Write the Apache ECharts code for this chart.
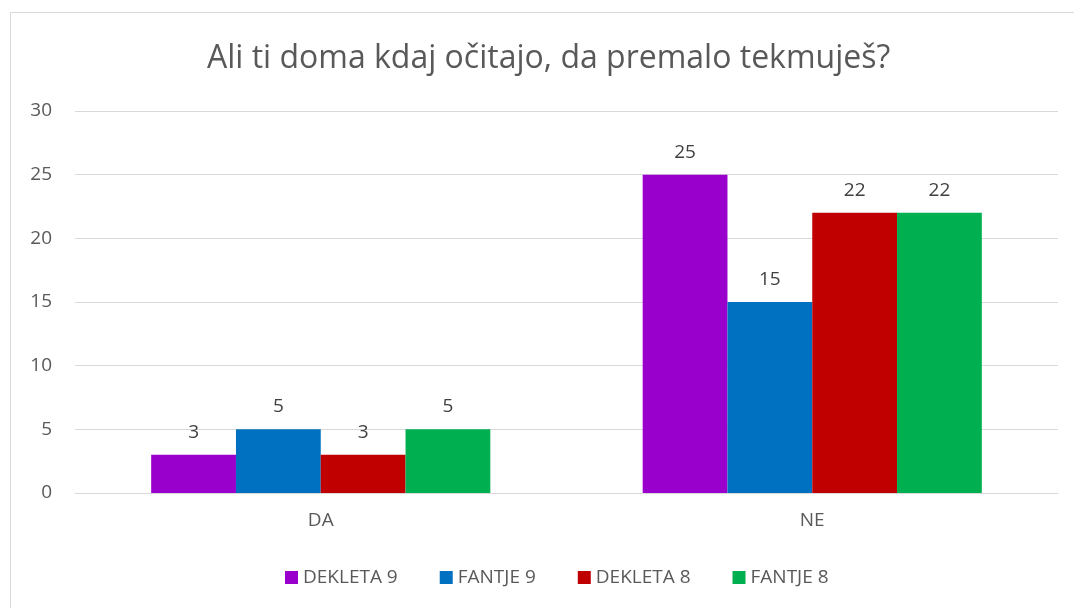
<!DOCTYPE html>
<html>
<head>
<meta charset="utf-8">
<script src="https://cdn.jsdelivr.net/npm/echarts@6/dist/echarts.min.js"></script>
<style>
html,body{margin:0;padding:0;background:#fff;}
#c{width:1074px;height:608px;}
</style>
</head>
<body>
<div id="c"></div>
<script>
const categories = ['DA', 'NE'];
const seriesNames = ['DEKLETA 9', 'FANTJE 9', 'DEKLETA 8', 'FANTJE 8'];
const dekleta9 = [3, 25];
const fantje9 = [5, 15];
const dekleta8 = [3, 22];
const fantje8 = [5, 22];
const colors = ['#9900CC', '#0070C0', '#C00000', '#00B050'];
const titleText = 'Ali ti doma kdaj očitajo, da premalo tekmuješ?';

const values = [dekleta9, fantje9, dekleta8, fantje8];
const FONT = '"Open Sans", "Noto Sans", sans-serif';

const chart = echarts.init(document.getElementById('c'), null, {renderer: 'canvas'});
chart.setOption({
  animation: false,
  textStyle: {fontFamily: FONT},
  graphic: [{
    type: 'rect', silent: true, z: -10,
    shape: {x: 10.5, y: 12.5, width: 1100, height: 700},
    style: {fill: '#fff', stroke: '#d9d9d9', lineWidth: 1}
  }],
  title: {
    text: titleText,
    left: 202,
    top: 38,
    textStyle: {fontFamily: FONT, fontSize: 32, fontWeight: 'normal', color: '#595959'}
  },
  legend: {
    bottom: 16,
    left: 280,
    itemWidth: 13, itemHeight: 13, itemGap: 42,
    icon: 'rect',
    textStyle: {fontFamily: FONT, fontSize: 19, color: '#595959'},
    data: seriesNames
  },
  grid: {left: 75, right: 16, top: 111, bottom: 115, containLabel: false},
  xAxis: {
    type: 'category',
    data: categories,
    axisLine: {show: true, lineStyle: {color: '#d9d9d9', width: 1}},
    axisTick: {show: false},
    axisLabel: {fontFamily: FONT, fontSize: 19, color: '#595959', margin: 18}
  },
  yAxis: {
    type: 'value',
    min: 0, max: 30, interval: 5,
    axisLine: {show: false},
    axisTick: {show: false},
    splitLine: {lineStyle: {color: '#d9d9d9', width: 1}},
    axisLabel: {fontFamily: FONT, fontSize: 19, color: '#595959', margin: 23}
  },
  series: seriesNames.map((n, i) => ({
    name: n,
    type: 'bar',
    data: values[i],
    barGap: '0%',
    barCategoryGap: '31%',
    itemStyle: {color: colors[i]},
    label: {show: true, position: 'top', distance: 13, fontFamily: FONT, fontSize: 19, color: '#404040'}
  }))
});
</script>
</body>
</html>
